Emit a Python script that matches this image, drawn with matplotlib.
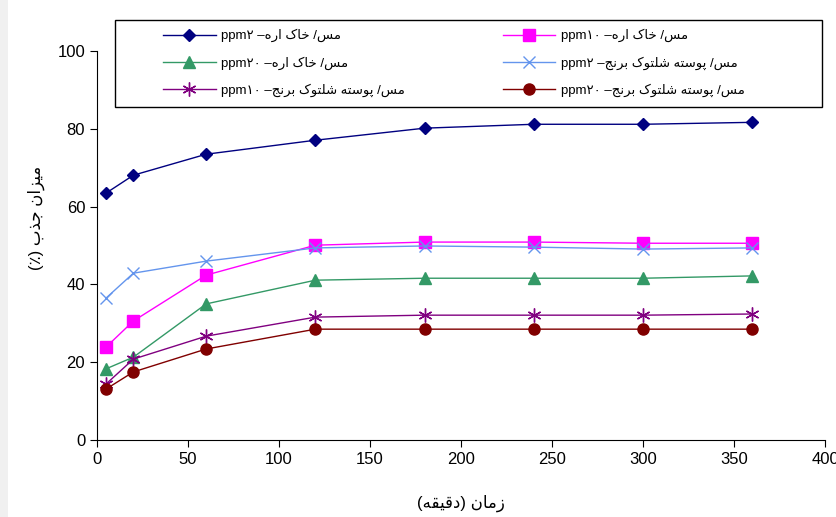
# adsorption_chart.py
# Cu adsorption (%) vs time for sawdust and rice husk at several concentrations

import matplotlib.pyplot as plt
from matplotlib.patches import Rectangle

# ── DATA ─────────────────────────────────────────────────
time_min = [5, 20, 60, 120, 180, 240, 300, 360]

saw_2   = [63.5, 68.1, 73.5, 77.1, 80.2, 81.2, 81.2, 81.7]
saw_10  = [23.9, 30.6, 42.4, 50.1, 50.9, 50.9, 50.6, 50.6]
saw_20  = [18.3, 21.3, 35.0, 41.1, 41.6, 41.6, 41.6, 42.2]
husk_2  = [36.5, 42.9, 46.0, 49.4, 49.9, 49.6, 49.1, 49.4]
husk_10 = [14.4, 20.8, 26.7, 31.6, 32.1, 32.1, 32.1, 32.4]
husk_20 = [13.1, 17.5, 23.4, 28.5, 28.5, 28.5, 28.5, 28.5]

SAW  = "مس/ خاک اره"
HUSK = "مس/ پوسته شلتوک برنج"
X_LABEL = "زمان (دقیقه)"
Y_LABEL = "میزان جذب (٪)"

# ── minimal Persian shaping (isolated, final, initial, medial) ──
FORMS = {
    "ا": (0xFE8D, 0xFE8E, None, None),
    "د": (0xFEA9, 0xFEAA, None, None),
    "ذ": (0xFEAB, 0xFEAC, None, None),
    "ر": (0xFEAD, 0xFEAE, None, None),
    "ز": (0xFEAF, 0xFEB0, None, None),
    "و": (0xFEED, 0xFEEE, None, None),
    "ب": (0xFE8F, 0xFE90, 0xFE91, 0xFE92),
    "پ": (0xFB56, 0xFB57, 0xFB58, 0xFB59),
    "ت": (0xFE95, 0xFE96, 0xFE97, 0xFE98),
    "ج": (0xFE9D, 0xFE9E, 0xFE9F, 0xFEA0),
    "خ": (0xFEA5, 0xFEA6, 0xFEA7, 0xFEA8),
    "س": (0xFEB1, 0xFEB2, 0xFEB3, 0xFEB4),
    "ش": (0xFEB5, 0xFEB6, 0xFEB7, 0xFEB8),
    "ق": (0xFED5, 0xFED6, 0xFED7, 0xFED8),
    "ک": (0xFB8E, 0xFB8F, 0xFB90, 0xFB91),
    "ل": (0xFEDD, 0xFEDE, 0xFEDF, 0xFEE0),
    "م": (0xFEE1, 0xFEE2, 0xFEE3, 0xFEE4),
    "ن": (0xFEE5, 0xFEE6, 0xFEE7, 0xFEE8),
    "ه": (0xFEE9, 0xFEEA, 0xFEEB, 0xFEEC),
    "ی": (0xFBFC, 0xFBFD, 0xFBFE, 0xFBFF),
}
MIRROR = {"(": ")", ")": "("}


def fa(text):
    """Shape Persian letters and return the string in visual (LTR) order."""
    out = []
    for i, ch in enumerate(text):
        if ch not in FORMS:
            out.append(MIRROR.get(ch, ch))
            continue
        prev = text[i - 1] if i > 0 else ""
        nxt = text[i + 1] if i + 1 < len(text) else ""
        joins_prev = prev in FORMS and FORMS[prev][2] is not None
        joins_next = FORMS[ch][2] is not None and nxt in FORMS
        iso, fin, ini, med = FORMS[ch]
        if joins_prev and joins_next:
            code = med
        elif joins_prev:
            code = fin
        elif joins_next:
            code = ini
        else:
            code = iso
        out.append(chr(code))
    return "".join(reversed(out))


def label(base, conc):
    return f"ppm{conc} –" + fa(base)


plt.rcParams["font.family"] = ["Liberation Sans", "DejaVu Sans"]

# ── PLOT ─────────────────────────────────────────────────
fig = plt.figure(figsize=(8.36, 5.17), dpi=100, facecolor="#f0f0f0")
fig.patches.append(Rectangle((8 / 836, 0), 1, 1, transform=fig.transFigure,
                             facecolor="white", edgecolor="none", zorder=-10))
ax = fig.add_axes([0.116, 0.149, 0.871, 0.752])

ax.plot(time_min, saw_2, color="#000080", marker="D", ms=6, lw=1, label=label(SAW, "۲"))
ax.plot(time_min, saw_20, color="#339966", marker="^", ms=8, lw=1, label=label(SAW, "۲۰"))
ax.plot(time_min, husk_10, color="#800080", marker=(6, 2, 0), ms=10, lw=1, mew=1,
        label=label(HUSK, "۱۰"))
ax.plot(time_min, saw_10, color="#FF00FF", marker="s", ms=8, lw=1, label=label(SAW, "۱۰"))
ax.plot(time_min, husk_2, color="#6495ED", marker="x", ms=8, lw=1, mew=1,
        label=label(HUSK, "۲"))
ax.plot(time_min, husk_20, color="#800000", marker="o", ms=8, lw=1, label=label(HUSK, "۲۰"))

ax.set_xlim(0, 400)
ax.set_ylim(0, 100)
ax.set_xticks(range(0, 401, 50))
ax.set_yticks(range(0, 101, 20))
ax.tick_params(labelsize=12, direction="out", length=5)
for side in ("top", "right"):
    ax.spines[side].set_visible(False)

ax.set_xlabel(fa(X_LABEL), fontsize=12, labelpad=20)
ax.set_ylabel(fa(Y_LABEL), fontsize=12)
ax.yaxis.set_label_coords(-0.072, 0.57)

# legend without its own frame, frame drawn as a separate box
leg = fig.legend(loc="upper left", bbox_to_anchor=(163 / 836, 1 - 29 / 517),
                 ncol=2, fontsize=9.5, frameon=False, handlelength=4,
                 handletextpad=0.4, columnspacing=7.4, labelspacing=1.05,
                 borderpad=0, borderaxespad=0)
fig.patches.append(Rectangle((115 / 836, 1 - 107 / 517), 707 / 836, 87 / 517,
                             transform=fig.transFigure, facecolor="white",
                             edgecolor="black", lw=1, zorder=5))
leg.set_zorder(6)

fig.savefig("out.png", dpi=100, facecolor=fig.get_facecolor())
